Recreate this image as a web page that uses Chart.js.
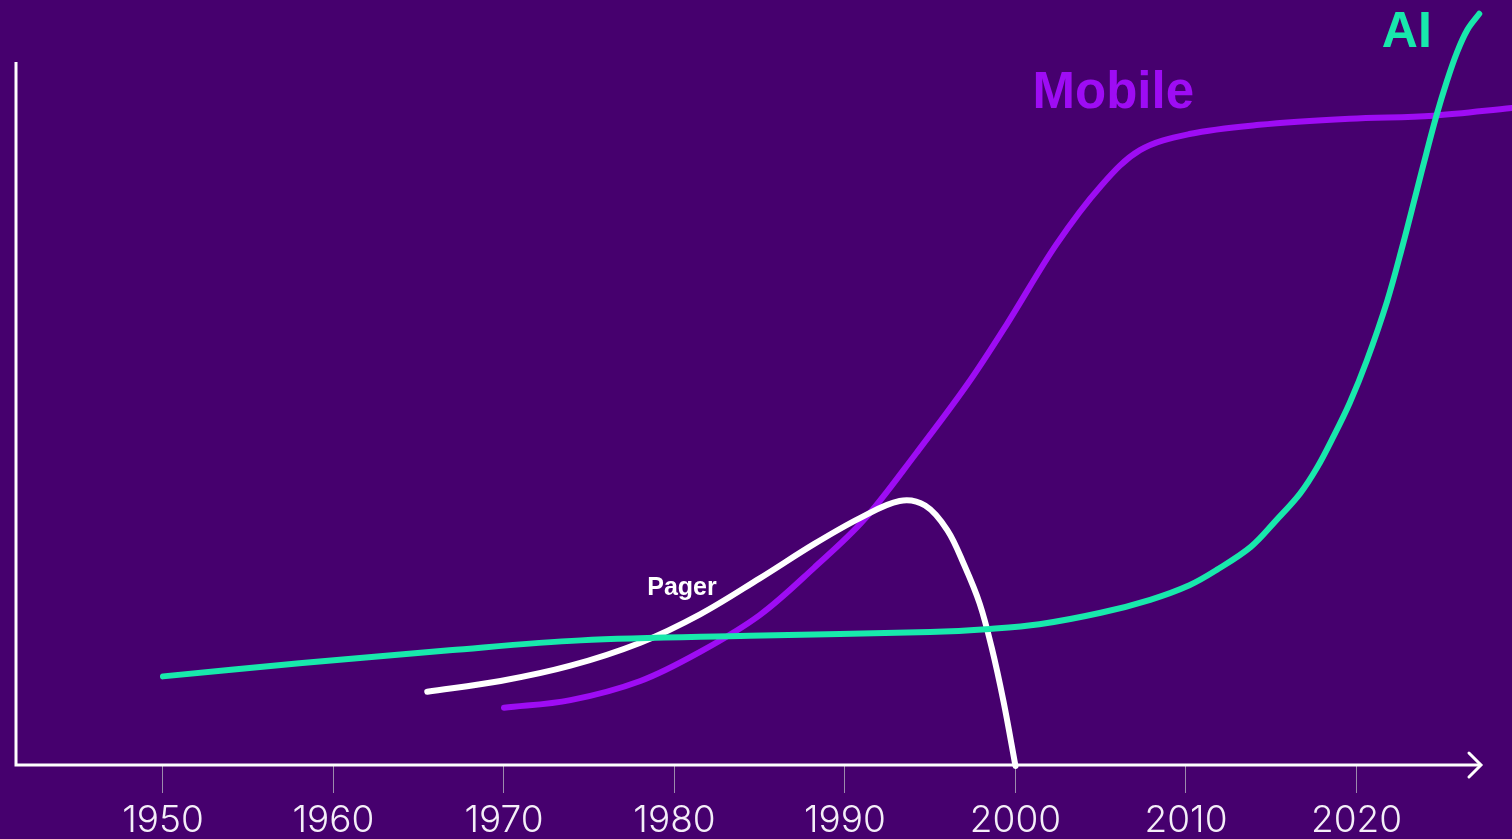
<!DOCTYPE html>
<html>
<head>
<meta charset="utf-8">
<title>Pager, Mobile, AI</title>
<script src="https://cdn.jsdelivr.net/npm/chart.js@4/dist/chart.umd.min.js"></script>
<style>
  html, body { margin: 0; padding: 0; background: #46006e; overflow: hidden; }
  #wrap { width: 1512px; height: 839px; position: relative; }
</style>
</head>
<body>
<div id="wrap"><canvas id="myChart"></canvas></div>
<script>
// values (x = year, y = relative level 0..100)
const tickYears = [1950, 1960, 1970, 1980, 1990, 2000, 2010, 2020]

const aiYears = [1950, 1958.0, 1966.8, 1974.5, 1984.4, 1995.0, 1998.5, 2001.4, 2005.0, 2007.9, 2010.2, 2011.8, 2013.8, 2015.3, 2016.7, 2017.7, 2018.6, 2019.6, 2020.6, 2021.8, 2022.7, 2023.5, 2024.1, 2024.7, 2025.3, 2025.9, 2026.5, 2027.2]
const aiValues = [11.7, 13.4, 15.1, 16.4, 17.0, 17.5, 17.9, 18.5, 20.0, 21.7, 23.6, 25.6, 28.6, 32.1, 35.6, 39.0, 42.8, 47.4, 52.9, 60.7, 67.9, 74.8, 80.0, 85.0, 89.4, 93.2, 96.1, 98.2]

const mobileYears = [1970, 1973.9, 1978.0, 1981.5, 1985.0, 1988.2, 1991.1, 1994.2, 1997.2, 1999.5, 2002.4, 2005.0, 2007.3, 2010.2, 2014.3, 2019.6, 2024.5, 2029.1]
const mobileValues = [7.6, 8.6, 11.1, 14.9, 19.7, 25.9, 32.1, 40.9, 49.9, 57.7, 68.1, 75.7, 80.4, 82.5, 83.7, 84.5, 84.9, 85.9]

const pagerYears = [1965.5, 1969.8, 1973.9, 1978.0, 1981.5, 1985.0, 1988.2, 1990.9, 1993.2, 1994.7, 1996.0, 1997.0, 1997.9, 1998.6, 1999.3, 2000.0]
const pagerValues = [9.7, 11.1, 13.1, 16.1, 19.8, 24.5, 29.0, 32.4, 34.6, 34.0, 30.8, 26.2, 21.2, 15.5, 8.4, 0]

const BG = '#46006e'
const GREEN = '#18e8ac'
const PURPLE = '#9e0cf4'
const WHITE = '#ffffff'

const toPoints = (xs, ys) => xs.map((x, i) => ({ x, y: ys[i] }))

// series names drawn next to their curves
const seriesLabels = [
    { text: 'AI', x: 2022.95, y: 93.9, color: GREEN, size: 50, align: 'center' },
    { text: 'Mobile', x: 2001.0, y: 85.9, color: PURPLE, size: 51, align: 'left' },
    { text: 'Pager', x: 1978.4, y: 22.3, color: WHITE, size: 25, align: 'left' }
]

const backdrop = {
    id: 'backdrop',
    beforeDraw(chart) {
        const { ctx, width, height } = chart
        ctx.save()
        ctx.fillStyle = BG
        ctx.fillRect(0, 0, width, height)
        ctx.restore()
    }
}

// white axis lines with an arrow head on the x axis
const axes = {
    id: 'axes',
    afterDraw(chart) {
        const { ctx, chartArea, scales } = chart
        const left = chartArea.left
        const bottom = chartArea.bottom - 1
        const top = scales.y.getPixelForValue(91.9)
        const tip = scales.x.getPixelForValue(2027.3)
        ctx.save()
        ctx.strokeStyle = WHITE
        ctx.lineWidth = 3
        ctx.lineCap = 'butt'
        ctx.beginPath()
        ctx.moveTo(left, top)
        ctx.lineTo(left, bottom)
        ctx.lineTo(tip, bottom)
        ctx.stroke()
        ctx.lineCap = 'round'
        ctx.lineJoin = 'miter'
        ctx.beginPath()
        ctx.moveTo(tip - 12, bottom - 12)
        ctx.lineTo(tip, bottom)
        ctx.lineTo(tip - 12, bottom + 12)
        ctx.stroke()
        ctx.restore()
    }
}

const names = {
    id: 'names',
    afterDatasetsDraw(chart) {
        const { ctx, scales } = chart
        ctx.save()
        ctx.textBaseline = 'alphabetic'
        seriesLabels.forEach(l => {
            ctx.font = `bold ${l.size}px "Liberation Sans", Arial, sans-serif`
            ctx.fillStyle = l.color
            ctx.textAlign = l.align
            ctx.fillText(l.text, scales.x.getPixelForValue(l.x), scales.y.getPixelForValue(l.y))
        })
        ctx.restore()
    }
}

function line(label, xs, ys, color) {
    return {
        label,
        data: toPoints(xs, ys),
        borderColor: color,
        borderWidth: 6,
        borderCapStyle: 'round',
        borderJoinStyle: 'round',
        pointRadius: 0,
        fill: false,
        tension: 0.35,
        clip: false
    }
}

const config = {
    type: 'line',
    data: {
        datasets: [
            line('AI', aiYears, aiValues, GREEN),
            line('Pager', pagerYears, pagerValues, WHITE),
            line('Mobile', mobileYears, mobileValues, PURPLE)
        ]
    },
    options: {
        responsive: true,
        maintainAspectRatio: false,
        animation: false,
        layout: {
            padding: { left: 16, right: 0, top: 0, bottom: 0 }
        },
        plugins: {
            legend: { display: false },
            tooltip: { enabled: false }
        },
        scales: {
            x: {
                type: 'linear',
                min: 1941.38,
                max: 2029.12,
                afterBuildTicks: scale => {
                    scale.ticks = tickYears.map(v => ({ value: v }))
                },
                afterFit: scale => { scale.height = 73 },
                border: { display: false },
                grid: {
                    drawOnChartArea: false,
                    drawTicks: true,
                    tickLength: 27,
                    color: '#9c8aac',
                    lineWidth: 1
                },
                ticks: {
                    callback: v => String(v),
                    color: '#f4eef8',
                    padding: 6,
                    maxRotation: 0,
                    autoSkip: false,
                    font: { family: 'Inter, sans-serif', size: 37, weight: 300 }
                }
            },
            y: {
                type: 'linear',
                min: 0,
                max: 100,
                display: false
            }
        }
    },
    plugins: [backdrop, axes, names]
}

const myChart = new Chart(document.getElementById('myChart'), config)
</script>
</body>
</html>
